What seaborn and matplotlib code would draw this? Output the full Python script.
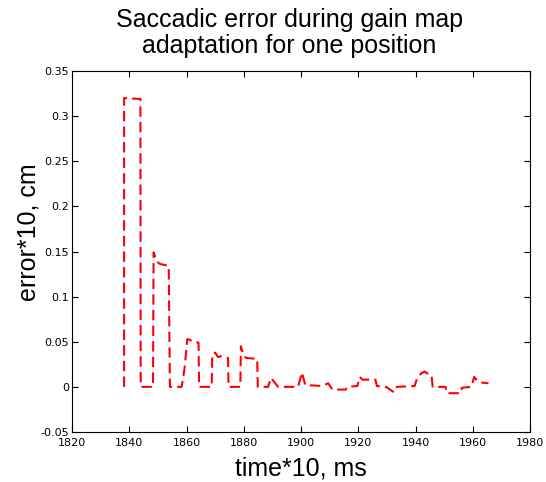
import matplotlib
matplotlib.use("Agg")
import matplotlib.pyplot as plt
import seaborn as sns
import pandas as pd

# time*10 (ms) and error*10 (cm)
time = [1838.2, 1838.2, 1843.9, 1844.0, 1848.3, 1848.5, 1849.5, 1850.3, 1851.0, 1853.8,
        1854.0, 1854.2, 1858.3, 1859.3, 1860.3, 1861.3, 1862.0, 1864.2, 1864.4,
        1868.8, 1869.0, 1870.0, 1871.0, 1872.0, 1874.5, 1874.7,
        1878.8, 1879.0, 1880.0, 1881.0, 1884.7, 1884.9,
        1888.5, 1889.5, 1890.0, 1891.0, 1892.0,
        1899.0, 1900.3, 1901.5, 1907.5, 1909.5, 1911.0, 1915.6, 1916.2,
        1919.7, 1920.5, 1921.5, 1926.0, 1926.5, 1929.7, 1932.5, 1933.5,
        1939.7, 1940.5, 1942.0, 1943.2, 1944.5, 1945.6, 1946.0,
        1950.5, 1950.9, 1955.8, 1956.2, 1959.5, 1960.5, 1961.5, 1962.6, 1965.5]
error = [0.0, 0.32, 0.319, 0.0, 0.0, 0.149, 0.140, 0.137, 0.136, 0.134,
         0.065, 0.0, 0.0, 0.02, 0.053, 0.052, 0.050, 0.049, 0.0,
         0.0, 0.036, 0.038, 0.033, 0.034, 0.032, 0.0,
         0.0, 0.045, 0.034, 0.032, 0.031, 0.0,
         0.0, 0.010, 0.008, 0.004, 0.0,
         0.0, 0.016, 0.002, 0.001, 0.004, -0.003, -0.003, 0.0,
         0.001, 0.011, 0.008, 0.008, 0.001, 0.0, -0.006, 0.0,
         0.001, 0.009, 0.015, 0.017, 0.014, 0.013, 0.0,
         0.0, -0.007, -0.007, -0.001, 0.0, 0.011, 0.007, 0.005, 0.004]

xticks = [1820, 1840, 1860, 1880, 1900, 1920, 1940, 1960, 1980]
yticks = [-0.05, 0, 0.05, 0.1, 0.15, 0.2, 0.25, 0.3, 0.35]
ytick_labels = ["-0.05", "0", "0.05", "0.1", "0.15", "0.2", "0.25", "0.3", "0.35"]

sns.set_theme(style="white")
plt.rcParams['font.family'] = ['Liberation Sans', 'DejaVu Sans']
plt.rcParams['text.color'] = 'black'
plt.rcParams['axes.labelcolor'] = 'black'

df = pd.DataFrame({"time": time, "error": error})

fig = plt.figure(figsize=(5.46, 4.82), dpi=100)
ax = fig.add_axes([72/546, 1-432/482, (530-72)/546, (432-71)/482])

sns.lineplot(data=df, x="time", y="error", sort=False, estimator=None, ax=ax,
             color="#ff0000", linewidth=1.5, dashes=False)
ax.lines[0].set_dashes((5, 2.5))

ax.set_xlim(1820, 1980)
ax.set_ylim(-0.05, 0.35)
ax.set_xticks(xticks)
ax.set_xticklabels([str(v) for v in xticks], fontsize=8, family=['DejaVu Sans'])
ax.set_yticks(yticks)
ax.set_yticklabels(ytick_labels, fontsize=8, family=['DejaVu Sans'])
ax.tick_params(direction="in", length=4, width=0.8, top=True, right=True,
               bottom=True, left=True, colors="black")
ax.tick_params(axis="x", pad=4.5)
ax.tick_params(axis="y", pad=2)
for s in ax.spines.values():
    s.set_color("black")
    s.set_linewidth(0.8)

ax.set_xlabel("time*10, ms", fontsize=18, labelpad=6)
ax.set_ylabel("error*10, cm", fontsize=18, labelpad=0)
ax.yaxis.set_label_coords(-0.068, 0.553)
ax.set_title("Saccadic error during gain map\nadaptation for one position",
             fontsize=18, pad=13, linespacing=1.1, color="black", x=0.475)

fig.savefig("out.png", dpi=100)
